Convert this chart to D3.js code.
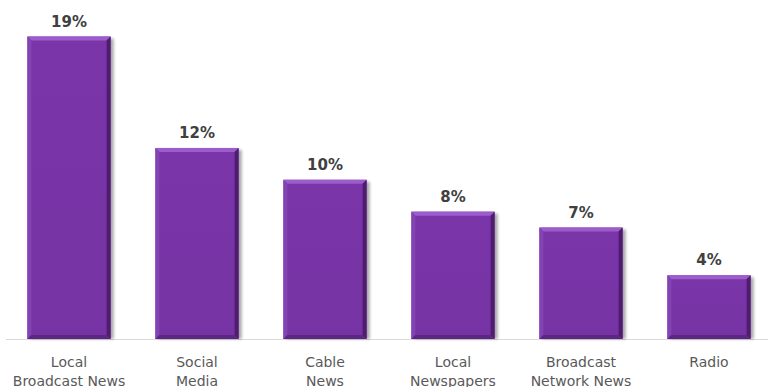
<!DOCTYPE html>
<html>
<head>
<meta charset="utf-8">
<script src="https://cdn.jsdelivr.net/npm/d3@7"></script>
<style>
  html, body { margin: 0; padding: 0; background: #ffffff; }
  svg { display: block; }
</style>
</head>
<body>
<svg id="chart" width="768" height="387"></svg>
<script>
// Share of respondents by main news source
const categories = [
  ["Local", "Broadcast News"],
  ["Social", "Media"],
  ["Cable", "News"],
  ["Local", "Newspapers"],
  ["Broadcast", "Network News"],
  ["Radio"]
];
const values = [19, 12, 10, 8, 7, 4];
const valueLabels = ["19%", "12%", "10%", "8%", "7%", "4%"];

const W = 768, H = 387;
const baseline = 339;
const svg = d3.select("#chart");

const keys = categories.map(c => c.join(" "));
const x = d3.scaleBand().domain(keys).range([5, 773]).paddingInner(0.35).paddingOuter(0.175);
const y = d3.scaleLinear().domain([0, 20]).range([baseline, baseline - 318.4]);

const defs = svg.append("defs");
// vertical shading for the bar body
const g1 = defs.append("linearGradient").attr("id", "barV").attr("x1", 0).attr("y1", 0).attr("x2", 0).attr("y2", 1);
g1.append("stop").attr("offset", 0).attr("stop-color", "#7a36a8");
g1.append("stop").attr("offset", 1).attr("stop-color", "#7633a4");
const blur = defs.append("filter").attr("id", "shadow").attr("x", "-20%").attr("y", "-5%").attr("width", "140%").attr("height", "110%");
blur.append("feGaussianBlur").attr("stdDeviation", 1.6);

// baseline
svg.append("line")
  .attr("x1", 6).attr("x2", W).attr("y1", baseline + 0.5).attr("y2", baseline + 0.5)
  .attr("stroke", "#d9d9d9").attr("stroke-width", 1);

const bars = svg.append("g").selectAll("g").data(values).join("g")
  .attr("transform", (d, i) => `translate(${x(keys[i])},${y(d)})`);

const bw = x.bandwidth();
const e = 4; // bevel depth

// soft drop shadow on the right
bars.append("rect")
  .attr("x", 3).attr("y", 2)
  .attr("width", bw).attr("height", d => baseline - y(d) - 2)
  .attr("fill", "#000").attr("opacity", 0.35)
  .attr("filter", "url(#shadow)");

bars.append("rect")
  .attr("width", bw).attr("height", d => baseline - y(d))
  .attr("fill", "url(#barV)");

// top bevel (light)
bars.append("path")
  .attr("d", `M0,0 L${bw},0 L${bw - e},${e} L${e},${e} Z`)
  .attr("fill", "#9c5ccc");
// left bevel
bars.append("path")
  .attr("d", d => { const h = baseline - y(d); return `M0,0 L${e},${e} L${e},${h - e} L0,${h} Z`; })
  .attr("fill", "#8443b2");
// right bevel (dark)
bars.append("path")
  .attr("d", d => { const h = baseline - y(d); return `M${bw},0 L${bw},${h} L${bw - e},${h - e} L${bw - e},${e} Z`; })
  .attr("fill", "#4e1c70");
// bottom bevel
bars.append("path")
  .attr("d", d => { const h = baseline - y(d); return `M0,${h} L${bw},${h} L${bw - e},${h - e} L${e},${h - e} Z`; })
  .attr("fill", "#5c2683");

// value labels
svg.append("g").selectAll("text").data(values).join("text")
  .attr("x", (d, i) => x(keys[i]) + bw / 2)
  .attr("y", d => y(d) - 10)
  .attr("text-anchor", "middle")
  .attr("font-family", "'DejaVu Sans', sans-serif")
  .attr("font-weight", "bold")
  .attr("font-size", 15)
  .attr("fill", "#404040")
  .text((d, i) => valueLabels[i]);

// category labels
const cat = svg.append("g").selectAll("text").data(categories).join("text")
  .attr("x", (d, i) => x(keys[i]) + bw / 2)
  .attr("y", 367)
  .attr("text-anchor", "middle")
  .attr("font-family", "'DejaVu Sans', sans-serif")
  .attr("font-size", 14)
  .attr("fill", "#595959");
cat.selectAll("tspan").data(d => d).join("tspan")
  .attr("x", function () { return this.parentNode.getAttribute("x"); })
  .attr("dy", (d, j) => j === 0 ? 0 : 19)
  .text(d => d);
</script>
</body>
</html>
